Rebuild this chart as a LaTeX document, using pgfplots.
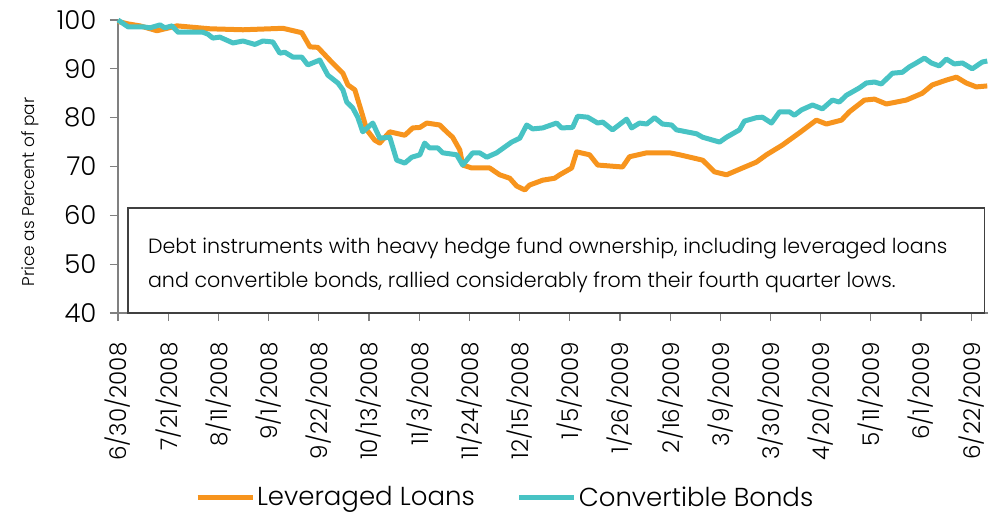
\documentclass[border=0pt]{standalone}
\usepackage{fontspec}
\setmainfont{Poppins}[UprightFont=* Light]
\usepackage{pgfplots}
\pgfplotsset{compat=1.18}
\definecolor{lorange}{RGB}{247,148,29}
\definecolor{cteal}{RGB}{72,195,196}
\definecolor{axgray}{RGB}{128,128,128}
\begin{document}
\begin{tikzpicture}
\begin{axis}[
  scale only axis, width=870pt, height=293pt,
  xmin=0, xmax=364, ymin=40, ymax=100,
  axis x line*=bottom, axis y line*=left,
  axis line style={axgray, line width=1.5pt, -},
  xtick={0,21,...,357},
  xticklabels={6/30/2008,7/21/2008,8/11/2008,9/1/2008,9/22/2008,10/13/2008,11/3/2008,11/24/2008,12/15/2008,1/5/2009,1/26/2009,2/16/2009,3/9/2009,3/30/2009,4/20/2009,5/11/2009,6/1/2009,6/22/2009},
  ytick={40,50,...,100},
  tick align=outside, major tick length=8pt,
  tick style={axgray, line width=1.2pt},
  xticklabel style={rotate=90, anchor=east, font=\fontsize{23}{26}\selectfont},
  xticklabel shift=18pt,
  yticklabel style={font=\fontsize{26}{30}\selectfont},
  yticklabel shift=10pt,
  /pgf/number format/assume math mode=true,
  ylabel={Price as Percent of par},
  ylabel style={font=\fontsize{17}{20}\selectfont, at={(axis description cs:-0.101,0.413)}, anchor=center},
  clip=false,
  legend columns=2,
  legend style={draw=none, fill=none, at={(0.445,-0.628)}, anchor=center, font=\fontsize{26}{30}\selectfont, /tikz/every even column/.append style={column sep=40pt}},
  legend image code/.code={\draw[#1, line width=5pt] (0pt,0pt) -- (55pt,0pt);},
]
\addplot[lorange, line width=5pt, line join=round] coordinates {
(0,99.7)(4.2,99.2)(9.2,98.8)(16.3,97.8)(24.7,98.8)(38.5,98.2)(52.3,98.0)(69,98.3)(76.9,97.4)(80.3,94.5)(83.6,94.4)(88.6,91.8)(94.1,89.1)(96.2,86.7)(99.1,85.7)(102,81)(104.1,77.5)(107.4,75.4)(109.5,74.8)(113.7,77.1)(120,76.4)(123.3,77.9)(126.3,78)(129.2,78.9)(134.6,78.5)(137.5,77.1)(140,76)(143,73.4)(144.2,70.3)(148,69.7)(155.5,69.7)(159.7,68.3)(163.9,67.6)(166.8,66)(170.2,65.2)(172.2,66.2)(177.7,67.2)(182.7,67.6)(184.8,68.3)(189.8,69.7)(191.9,73)(197.3,72.4)(200.7,70.3)(211.1,69.9)(214,72)(221.2,72.8)(230.8,72.8)(235,72.4)(244.6,71.3)(249.6,68.9)(254.6,68.3)(261.3,69.7)(267.1,70.9)(271.3,72.4)(278,74.4)(285.1,76.9)(292.2,79.5)(296.4,78.7)(302.7,79.5)(306,81.2)(312.3,83.6)(316.5,83.8)(321.5,82.8)(329.8,83.6)(336.5,85)(340.7,86.7)(346.6,87.7)(350.8,88.3)(354.9,87.1)(359.1,86.3)(363.7,86.5)
};
\addlegendentry{Leveraged Loans}
\addplot[cteal, line width=5pt, line join=round] coordinates {
(0,100)(4.2,98.6)(10.5,98.6)(13.4,98.4)(17.6,99)(19.6,98.4)(22.6,98.8)(25.1,97.5)(35.5,97.5)(37.6,97.1)(39.7,96.3)(42.6,96.5)(48.1,95.3)(52.3,95.7)(57.3,95)(60.6,95.7)(64.8,95.5)(67.7,93.2)(69.8,93.4)(73.2,92.4)(76.9,92.4)(79.4,90.8)(84.4,91.8)(87.8,88.7)(92,87.1)(94.1,85.7)(95.7,83.2)(98.2,82)(100.3,80.1)(102.4,77.1)(106.6,78.9)(109.5,75.8)(113.7,76)(116.6,71.3)(120,70.7)(122.9,71.9)(126.3,72.4)(128.3,74.8)(130.4,73.8)(133.8,73.8)(135.9,72.8)(141.7,72.4)(144.2,70.3)(148.4,72.8)(151.3,72.8)(154.3,71.9)(158.4,72.8)(164.7,75)(168.1,75.8)(171,78.5)(173.5,77.7)(177.7,77.9)(183.5,78.9)(185.6,77.9)(190.2,78)(192.3,80.3)(196.5,80.1)(200.7,78.9)(202.8,79.1)(206.9,77.5)(212.8,79.7)(214.9,77.9)(218.2,78.9)(221.2,78.7)(224.5,80)(227.8,78.7)(231.6,78.5)(233.7,77.5)(242.1,76.7)(244.6,76)(251.7,75)(254.6,76)(260,77.5)(262.1,79.3)(267.1,80)(269.6,80.1)(273.4,78.9)(276.8,81.2)(280.9,81.2)(283,80.5)(286,81.6)(290.6,82.6)(294.7,81.8)(298.9,83.6)(301.8,83.2)(304.8,84.6)(310.2,86.1)(313.1,87.1)(316.5,87.3)(319.4,86.9)(324,89.1)(328.2,89.3)(331.1,90.4)(334,91.2)(337.4,92.2)(340.3,91.2)(343.6,90.6)(346.6,92)(349.9,91)(353.3,91.2)(357.4,90)(361.6,91.4)(363.7,91.6)
};
\addlegendentry{Convertible Bonds}
\draw[black!75, line width=1.2pt, fill=white] (axis cs:4.2,40) rectangle (axis cs:362.5,61.5);
\node[anchor=base west, inner sep=0pt, font=\fontsize{20.6}{24}\selectfont] at (axis cs:12.5,52.1) {Debt instruments with heavy hedge fund ownership, including leveraged loans};
\node[anchor=base west, inner sep=0pt, font=\fontsize{20.6}{24}\selectfont] at (axis cs:12.5,45.3) {and convertible bonds, rallied considerably from their fourth quarter lows.};
\end{axis}
\pgfresetboundingbox
\path (-118pt,-202pt) rectangle (870pt,313pt);
\end{tikzpicture}
\end{document}
